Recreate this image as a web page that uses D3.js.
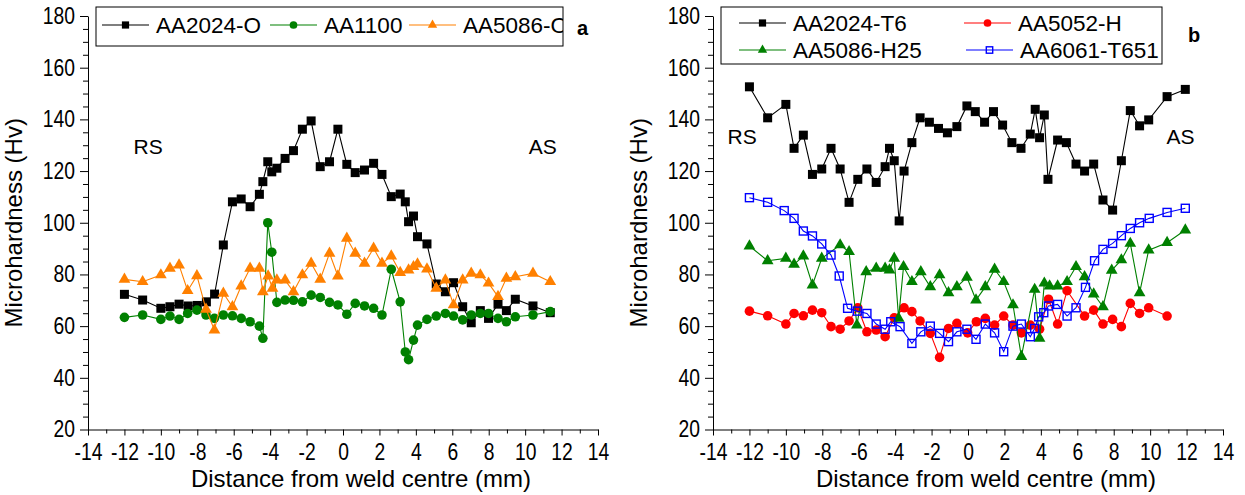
<!DOCTYPE html>
<html>
<head>
<meta charset="utf-8">
<script src="https://cdn.jsdelivr.net/npm/d3@7"></script>
<style>
body { margin: 0; background: #fff; }
text { font-family: "Liberation Sans", Arial, sans-serif; fill: #000; }
</style>
</head>
<body>
<svg id="chart" width="1245" height="495"></svg>
<script>
// ---- panel a data (distance in mm, hardness in Hv)
var distA2024O = [-12,-11,-10,-9.5,-9,-8.5,-8,-7.5,-7.05,-6.57,-6.07,-5.59,-5.1,-4.59,-4.4,-4.13,-3.91,-3.63,-3.18,-2.72,-2.23,-1.75,-1.25,-0.74,-0.28,0.21,0.67,1.18,1.68,2.14,2.65,3.14,3.42,3.6,3.87,4.09,4.61,5.12,5.62,6.07,6.57,7.04,7.54,7.99,8.51,8.97,9.46,10.43,11.38];
var hvA2024O   = [72.3,70.1,66.9,67.5,68.5,67.8,68,69.4,72.4,91.4,108.1,109.2,106.2,111.0,115.9,123.6,119.7,121.1,124.9,127.9,136.2,139.4,121.7,123.6,136.2,122.6,119.4,120.4,123.0,118.7,110.1,111.1,108.1,100.4,102.6,94.6,91.8,76.3,73.3,76.8,67.5,61.3,66.0,63.0,68.5,66.0,70.4,67.8,65.2];

var distA1100 = [-12,-11,-10,-9.5,-9,-8.53,-8.02,-7.52,-7.06,-6.57,-6.07,-5.59,-5.1,-4.59,-4.4,-4.13,-3.91,-3.63,-3.18,-2.72,-2.23,-1.75,-1.25,-0.74,-0.28,0.21,0.67,1.18,1.68,2.14,2.65,3.14,3.42,3.6,3.87,4.09,4.61,5.12,5.62,6.07,6.57,7.04,7.54,7.99,8.51,8.97,9.46,10.43,11.38];
var hvA1100   = [63.4,64.3,62.6,63.9,62.6,64.9,66.2,64.3,63.0,64.3,64.0,63.0,61.7,60.0,55.3,100.0,88.6,69.2,70.1,70.0,69.4,72.0,71.1,69.2,68.2,64.6,68.8,67.8,66.9,64.3,82.0,69.4,50.0,47.0,54.6,60.4,62.6,63.9,64.9,63.9,62.4,64.3,64.9,64.9,63.0,61.7,63.6,64.3,65.6];

var distA5086O = [-12,-11,-10,-9.5,-9,-8.53,-8.02,-7.52,-7.06,-6.57,-6.07,-5.59,-5.1,-4.59,-4.4,-4.11,-3.87,-3.63,-3.18,-2.72,-2.23,-1.75,-1.25,-0.74,-0.28,0.21,0.67,1.18,1.68,2.14,2.65,3.14,3.6,3.87,4.09,4.61,5.12,5.62,6.07,6.57,7.04,7.54,7.99,8.51,8.97,9.46,10.43,11.38];
var hvA5086O   = [78.1,77.2,79.8,82.4,83.6,73.7,79.5,66.5,58.5,72.7,67.5,75.5,82.4,82.4,73.3,79.4,74.6,77.8,77.8,73.3,79.8,84.3,78.1,88.2,79.4,94.0,88.2,84.3,90.1,84.3,87.1,80.7,81.7,83.0,84.0,82.1,74.6,77.8,68.2,77.8,80.4,79.8,76.6,71.4,78.5,79.1,80.4,77.2];

// ---- panel b data
var distA2024T6 = [-12,-11,-10,-9.55,-9.04,-8.54,-8.03,-7.52,-7.02,-6.53,-6.05,-5.55,-5.04,-4.55,-4.31,-4.05,-3.78,-3.51,-3.08,-2.63,-2.12,-1.62,-1.13,-0.61,-0.06,0.4,0.91,1.4,1.9,2.41,2.91,3.42,3.69,3.93,4.19,4.39,4.92,5.4,5.93,6.4,6.9,7.41,7.94,8.42,8.91,9.42,9.92,10.93,11.93];
var hvA2024T6   = [152.6,140.6,145.8,128.8,133.9,118.7,120.8,128.8,120.8,107.9,116.8,120.8,115.6,121.7,128.8,124.0,100.7,120.0,131.0,140.6,138.9,136.5,134.8,137.2,145.2,143.0,138.9,143.0,137.8,131.0,128.8,134.3,143.9,132.9,141.7,116.8,132.0,131.0,122.7,120.0,122.7,108.8,104.9,124.0,143.4,137.5,139.8,148.8,151.6];

var distA5052H = [-12,-11,-10,-9.55,-9.04,-8.54,-8.03,-7.52,-7.02,-6.53,-6.05,-5.55,-5.04,-4.55,-4.05,-3.51,-3.08,-2.63,-2.07,-1.56,-1.07,-0.61,-0.02,0.46,0.95,1.46,1.96,2.47,2.93,3.42,3.93,4.42,4.92,5.44,6.4,6.9,7.41,7.94,8.42,8.91,9.42,9.92,10.93];
var hvA5052H   = [65.8,64.0,60.8,64.9,64.0,66.2,65.2,59.8,58.8,62.0,67.1,57.8,58.5,55.9,63.2,67.1,65.6,62.0,57.2,47.9,59.1,61.1,57.4,61.7,63.0,60.4,63.9,60.4,57.4,60.4,58.8,70.4,60.8,73.7,63.9,66.2,60.8,62.6,59.8,68.8,64.9,67.1,63.9];

var distA5086H25 = [-12,-11,-10,-9.55,-9.04,-8.54,-8.03,-7.02,-6.53,-6.1,-5.59,-5.04,-4.55,-4.31,-4.05,-3.81,-3.54,-3.08,-2.59,-2.07,-1.56,-1.07,-0.61,-0.06,0.44,0.95,1.46,1.96,2.47,2.93,3.66,3.93,4.19,4.48,4.92,5.44,5.93,6.4,6.9,7.41,7.89,8.42,8.91,9.42,9.92,10.93,11.93];
var hvA5086H25   = [91.0,85.3,86.2,83.9,87.1,75.9,86.2,91.4,88.8,60.4,81.0,82.4,82.4,81.7,86.2,63.0,83.0,77.2,81.0,75.2,79.8,72.9,75.2,78.9,70.1,75.2,82.0,77.2,68.2,48.2,74.2,55.3,76.6,75.5,75.5,77.2,83.0,79.1,72.4,67.5,81.6,85.6,92.0,72.9,89.4,92.3,97.2];

var distA6061T651 = [-12,-11,-10.09,-9.55,-9.04,-8.54,-8.03,-7.52,-7.07,-6.61,-6.08,-5.55,-5.04,-4.55,-4.24,-3.73,-3.08,-2.59,-2.07,-1.56,-1.07,-0.61,-0.06,0.44,0.95,1.46,1.96,2.47,2.93,3.42,3.66,3.88,4.16,4.42,4.92,5.44,5.93,6.45,6.95,7.41,7.94,8.42,8.91,9.42,9.95,10.93,11.93];
var hvA6061T651   = [109.7,107.9,104.7,101.7,96.8,94.9,91.8,87.5,79.4,66.9,65.8,64.9,60.8,58.8,61.7,59.8,53.3,57.8,60.0,57.2,54.0,57.8,58.8,54.9,60.8,57.4,50.1,60.0,60.8,55.9,59.1,63.6,65.2,67.8,68.4,63.9,67.1,75.0,85.3,89.7,92.0,95.0,97.8,100.0,101.7,104.0,105.6];

// ---- axes
var xMajorTicks = d3.range(-14, 15, 2);
var xMinorTicks = d3.range(-13, 14, 2);
var yMajorTicks = d3.range(20, 181, 20);
var yMinorTicks = d3.range(25, 180, 5).filter(function(v){ return v % 20 != 0; });

function zip(xs, ys) {
    return xs.map(function(x, i){ return {x: x, y: ys[i]}; });
}

var svg = d3.select("#chart");
svg.append("rect").attr("width", 1245).attr("height", 495).attr("fill", "#fff");

var panels = [
    {
        left: 88, right: 598, letter: "a",
        legendBox: {x: 96, y: 7, w: 467, h: 39},
        legendItems: [
            {name: "AA2024-O", lx: 102, ly: 25},
            {name: "AA1100",   lx: 270, ly: 25},
            {name: "AA5086-O", lx: 409, ly: 25}
        ],
        letterPos: [577, 35],
        rs: [-11.5, 126.5], as: [10.2, 126.5],
        series: [
            {name: "AA2024-O", data: zip(distA2024O, hvA2024O), color: "#000000", marker: "square"},
            {name: "AA1100",   data: zip(distA1100, hvA1100),   color: "#008000", marker: "circle"},
            {name: "AA5086-O", data: zip(distA5086O, hvA5086O), color: "#ff8000", marker: "triangle"}
        ]
    },
    {
        left: 713, right: 1223, letter: "b",
        legendBox: {x: 721, y: 7, w: 441, h: 57},
        legendItems: [
            {name: "AA2024-T6",   lx: 739, ly: 23},
            {name: "AA5052-H",    lx: 964, ly: 23},
            {name: "AA5086-H25",  lx: 739, ly: 50},
            {name: "AA6061-T651", lx: 966, ly: 50}
        ],
        letterPos: [1188, 42],
        rs: [-13.2, 130.5], as: [10.9, 130.5],
        series: [
            {name: "AA2024-T6",   data: zip(distA2024T6, hvA2024T6),     color: "#000000", marker: "square"},
            {name: "AA5052-H",    data: zip(distA5052H, hvA5052H),       color: "#ff0000", marker: "circle"},
            {name: "AA5086-H25",  data: zip(distA5086H25, hvA5086H25),   color: "#008000", marker: "triangle"},
            {name: "AA6061-T651", data: zip(distA6061T651, hvA6061T651), color: "#0000ff", marker: "open"}
        ]
    }
];

var plotTop = 16, plotBottom = 429.5;
var plainNum = function(d){ return String(d); };

function drawMarker(g, kind, color, big) {
    var s = big ? 1 : 0.8;
    if (kind == "square") {
        g.append("rect").attr("x", -4.5*s).attr("y", -4.5*s).attr("width", 9*s).attr("height", 9*s).attr("fill", color);
    } else if (kind == "circle") {
        g.append("circle").attr("r", 4.8*s).attr("fill", color);
    } else if (kind == "triangle") {
        g.append("path").attr("d", d3.symbol(d3.symbolTriangle, 60*s*s)()).attr("fill", color);
    } else {
        g.append("rect").attr("x", -4*s).attr("y", -4*s).attr("width", 8*s).attr("height", 8*s)
            .attr("fill", "none").attr("stroke", color).attr("stroke-width", 1.4);
    }
}

panels.forEach(function(p, pi) {
    var x = d3.scaleLinear().domain([-14, 14]).range([p.left, p.right]);
    var y = d3.scaleLinear().domain([20, 180]).range([plotBottom, plotTop]);
    var g = svg.append("g");

    // minor ticks first
    g.append("g").attr("transform", "translate(0," + plotBottom + ")")
        .call(d3.axisBottom(x).tickValues(xMinorTicks).tickSize(4).tickFormat(""))
        .call(function(a){ a.select(".domain").remove(); });
    g.append("g").attr("transform", "translate(" + p.left + ",0)")
        .call(d3.axisLeft(y).tickValues(yMinorTicks).tickSize(5).tickFormat(""))
        .call(function(a){ a.select(".domain").remove(); });

    var xAxis = g.append("g").attr("transform", "translate(0," + plotBottom + ")")
        .call(d3.axisBottom(x).tickValues(xMajorTicks).tickFormat(plainNum).tickSize(6).tickSizeOuter(0).tickPadding(8));
    xAxis.selectAll("text").attr("font-size", 23).attr("font-family", "Liberation Sans, Arial, sans-serif")
        .attr("transform", "scale(0.84,1)").attr("fill", "#000");

    var yAxis = g.append("g").attr("transform", "translate(" + p.left + ",0)")
        .call(d3.axisLeft(y).tickValues(yMajorTicks).tickFormat(plainNum).tickSize(8).tickSizeOuter(0).tickPadding(5));
    yAxis.selectAll("text").attr("font-size", 23).attr("font-family", "Liberation Sans, Arial, sans-serif")
        .attr("x", -13 / 0.84).attr("transform", "scale(0.84,1)").attr("fill", "#000");

    svg.selectAll(".tick line, .domain").attr("stroke", "#000");

    // axis titles
    g.append("text")
        .attr("x", (p.left + p.right) / 2 + 18).attr("y", 487)
        .attr("text-anchor", "middle").attr("font-size", 24)
        .text("Distance from weld centre (mm)");
    g.append("text")
        .attr("transform", "translate(" + (p.left - 66) + "," + ((plotTop + plotBottom) / 2) + ") rotate(-90)")
        .attr("text-anchor", "middle").attr("font-size", 24)
        .text("Microhardness (Hv)");

    // series
    var line = d3.line().x(function(d){ return x(d.x); }).y(function(d){ return y(d.y); });
    p.series.forEach(function(s) {
        g.append("path").datum(s.data).attr("d", line)
            .attr("fill", "none").attr("stroke", s.color).attr("stroke-width", 1.1);
        g.selectAll(null).data(s.data).enter().append("g")
            .attr("transform", function(d){ return "translate(" + x(d.x) + "," + y(d.y) + ")"; })
            .each(function(){ drawMarker(d3.select(this), s.marker, s.color, true); });
    });

    // RS / AS labels
    g.append("text").attr("x", x(p.rs[0])).attr("y", y(p.rs[1])).attr("font-size", 21).text("RS");
    g.append("text").attr("x", x(p.as[0])).attr("y", y(p.as[1])).attr("font-size", 21).text("AS");

    // legend, text cut by the box edge like the original
    var lb = p.legendBox;
    var clipId = "legclip" + pi;
    svg.append("clipPath").attr("id", clipId).append("rect")
        .attr("x", lb.x).attr("y", lb.y).attr("width", lb.w).attr("height", lb.h);
    var leg = g.append("g");
    leg.append("rect").attr("x", lb.x).attr("y", lb.y).attr("width", lb.w).attr("height", lb.h)
        .attr("fill", "#fff").attr("stroke", "#000").attr("stroke-width", 1);
    var legInner = leg.append("g").attr("clip-path", "url(#" + clipId + ")");
    p.legendItems.forEach(function(it, i) {
        var s = p.series[i];
        legInner.append("line").attr("x1", it.lx).attr("x2", it.lx + 47).attr("y1", it.ly).attr("y2", it.ly)
            .attr("stroke", s.color).attr("stroke-width", 1.1);
        var mg = legInner.append("g").attr("transform", "translate(" + (it.lx + 23.5) + "," + it.ly + ")");
        drawMarker(mg, s.marker, s.color, false);
        legInner.append("text").attr("x", it.lx + 54).attr("y", it.ly + 8)
            .attr("font-size", 22.5).text(it.name);
    });

    g.append("text").attr("x", p.letterPos[0]).attr("y", p.letterPos[1])
        .attr("font-size", 20).attr("font-weight", "bold").text(p.letter);
});
</script>
</body>
</html>
